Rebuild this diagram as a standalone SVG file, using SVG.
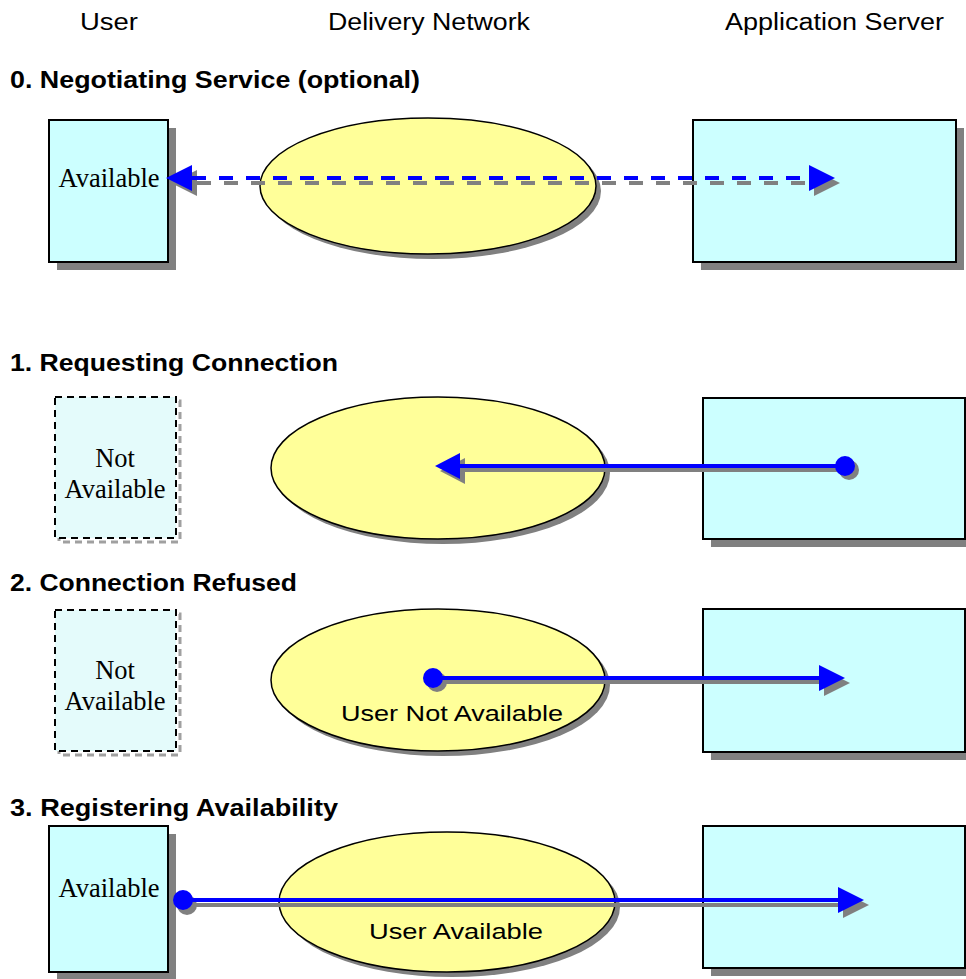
<svg xmlns="http://www.w3.org/2000/svg" width="966" height="979" viewBox="0 0 966 979">
<style>
.hdr{font-family:"Liberation Sans",Arial,sans-serif;font-size:23px;fill:#000}
.ttl{font-family:"Liberation Sans",Arial,sans-serif;font-size:23px;font-weight:bold;fill:#000}
.ser{font-family:"Liberation Serif","Times New Roman",serif;font-size:26.5px;fill:#000;text-anchor:middle}
.lbl{font-family:"Liberation Sans",Arial,sans-serif;font-size:22px;fill:#000;text-anchor:middle}
.box{fill:#ccffff;stroke:#000;stroke-width:2}
.dbox{fill:#e4fbfb;stroke:#000;stroke-width:2;stroke-dasharray:7 5}
.dsh{fill:none;stroke:#a0a0a0;stroke-width:3;stroke-dasharray:7 5}
.sh{fill:#808080}
.ell{fill:#ffff99;stroke:#000;stroke-width:1.5}
.bl{stroke:#0000ff;stroke-width:4;fill:none}
.gl{stroke:#808080;stroke-width:4;fill:none}
.bf{fill:#0000ff}
</style>

<text class="hdr" x="80" y="30" textLength="58" lengthAdjust="spacingAndGlyphs">User</text>
<text class="hdr" x="328" y="30" textLength="202" lengthAdjust="spacingAndGlyphs">Delivery Network</text>
<text class="hdr" x="725" y="30" textLength="219" lengthAdjust="spacingAndGlyphs">Application Server</text>

<text class="ttl" x="10" y="88" textLength="410" lengthAdjust="spacingAndGlyphs">0. Negotiating Service (optional)</text>
<text class="ttl" x="10" y="371" textLength="328" lengthAdjust="spacingAndGlyphs">1. Requesting Connection</text>
<text class="ttl" x="10" y="591" textLength="287" lengthAdjust="spacingAndGlyphs">2. Connection Refused</text>
<text class="ttl" x="10" y="816" textLength="328" lengthAdjust="spacingAndGlyphs">3. Registering Availability</text>

<!-- Panel 0 -->
<g id="user0">
<rect class="sh" x="57" y="128" width="119" height="142"/>
<rect class="box" x="49" y="120" width="119" height="142"/>
<text class="ser" x="109" y="187">Available</text>
</g>
<g id="net0">
<ellipse class="sh" cx="433" cy="191" rx="168" ry="68"/>
<ellipse class="ell" cx="428" cy="186" rx="168" ry="68"/>
</g>
<g id="app0">
<rect class="sh" x="701" y="128" width="263" height="142"/>
<rect class="box" x="693" y="120" width="263" height="142"/>
</g>

<!-- Panel 1 -->
<g id="user1">
<rect class="dsh" x="59" y="401" width="121" height="141"/>
<rect class="dbox" x="55" y="397" width="121" height="141"/>
<text class="ser" x="115" y="467">Not</text>
<text class="ser" x="115" y="498">Available</text>
</g>
<g id="net1">
<ellipse class="sh" cx="443" cy="473" rx="167" ry="71"/>
<ellipse class="ell" cx="438" cy="468" rx="167" ry="71"/>
</g>
<g id="app1">
<rect class="sh" x="711" y="406" width="262" height="141"/>
<rect class="box" x="703" y="398" width="262" height="141"/>
</g>

<!-- Panel 2 -->
<g id="user2">
<rect class="dsh" x="59" y="614" width="121" height="141"/>
<rect class="dbox" x="55" y="610" width="121" height="141"/>
<text class="ser" x="115" y="679">Not</text>
<text class="ser" x="115" y="710">Available</text>
</g>
<g id="net2">
<ellipse class="sh" cx="443" cy="685" rx="167" ry="71"/>
<ellipse class="ell" cx="438" cy="680" rx="167" ry="71"/>
<text class="lbl" x="452" y="721" textLength="222" lengthAdjust="spacingAndGlyphs">User Not Available</text>
</g>
<g id="app2">
<rect class="sh" x="711" y="617" width="262" height="143"/>
<rect class="box" x="703" y="609" width="262" height="143"/>
</g>

<!-- Panel 3 -->
<g id="user3">
<rect class="sh" x="57" y="834" width="119" height="145"/>
<rect class="box" x="49" y="826" width="119" height="146"/>
<text class="ser" x="109" y="897">Available</text>
</g>
<g id="net3">
<ellipse class="sh" cx="452" cy="907" rx="168" ry="70"/>
<ellipse class="ell" cx="447" cy="902" rx="168" ry="70"/>
<text class="lbl" x="456" y="939" textLength="174" lengthAdjust="spacingAndGlyphs">User Available</text>
</g>
<g id="app3">
<rect class="sh" x="711" y="834" width="262" height="142"/>
<rect class="box" x="703" y="826" width="262" height="142"/>
</g>

<g id="connectors">
<!-- Panel 0 dashed bidirectional -->
<line class="gl" x1="197" y1="183" x2="814" y2="183" stroke-dasharray="14 13"/>
<polygon class="sh" points="171,183 197,170 197,196"/>
<polygon class="sh" points="840,183 814,170 814,196"/>
<line class="bl" x1="192" y1="178" x2="809" y2="178" stroke-dasharray="14 13"/>
<polygon class="bf" points="166,178 192,165 192,191"/>
<polygon class="bf" points="835,178 809,165 809,191"/>

<!-- Panel 1 -->
<line class="gl" x1="465" y1="470" x2="849" y2="470"/>
<circle class="sh" cx="849" cy="470" r="10"/>
<polygon class="sh" points="440,471 465,458 465,484"/>
<line class="bl" x1="458" y1="466" x2="845" y2="466"/>
<circle class="bf" cx="845" cy="466" r="10"/>
<polygon class="bf" points="435,466 460,453 460,479"/>

<!-- Panel 2 -->
<line class="gl" x1="437" y1="682" x2="824" y2="682"/>
<circle class="sh" cx="437" cy="682" r="10"/>
<polygon class="sh" points="850,683 824,670 824,696"/>
<line class="bl" x1="433" y1="678" x2="821" y2="678"/>
<circle class="bf" cx="433" cy="678" r="10"/>
<polygon class="bf" points="845,678 819,665 819,691"/>

<!-- Panel 3 -->
<line class="gl" x1="187" y1="905" x2="843" y2="905"/>
<circle class="sh" cx="187" cy="905" r="10"/>
<polygon class="sh" points="869,905 843,892 843,918"/>
<line class="bl" x1="183" y1="900" x2="840" y2="900"/>
<circle class="bf" cx="183" cy="900" r="10"/>
<polygon class="bf" points="864,900 838,887 838,913"/>
</g>
</svg>
